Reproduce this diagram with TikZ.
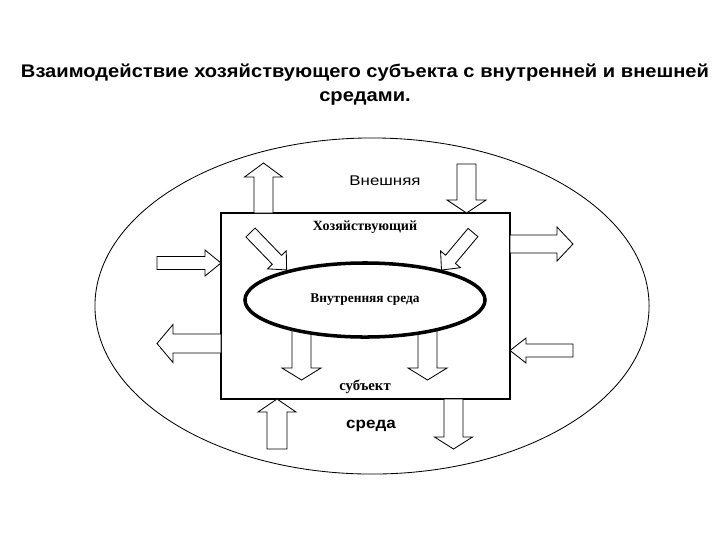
\documentclass[tikz,border=0pt]{standalone}
\usepackage{fontspec}
\setmainfont{Liberation Serif}
\setsansfont{Liberation Sans}
\usetikzlibrary{shapes.geometric}

% block arrow: tail point, angle, length, head length, shaft half width, head half width
\newcommand{\blockarr}[6]{%
  \draw[barrow, shift={#1}, rotate=#2]
    (0,-#5) -- ({#3-#4},-#5) -- ({#3-#4},-#6) -- (#3,0) -- ({#3-#4},#6) -- ({#3-#4},#5) -- (0,#5) -- cycle;}

\begin{document}
\begin{tikzpicture}[x=0.025cm, y=-0.025cm,
  barrow/.style={draw, fill=white, line width=0.6pt, line join=miter},
  lbl/.style={font=\fontsize{10}{11}\selectfont\bfseries, inner sep=0pt}]
  \useasboundingbox (0,0) rectangle (720,540);
  \node[font=\fontsize{13}{17}\selectfont\bfseries\sffamily, align=center, xscale=1.1] (title) at (365,85)
    {Взаимодействие хозяйствующего субъекта с внутренней и внешней\\средами.};
  \node[draw, ellipse, line width=0.6pt, minimum width=13.85cm, minimum height=8.4cm] (outer) at (372,306) {};
  \node[draw, line width=1pt, minimum width=7.225cm, minimum height=4.65cm] (firm) at (365.5,306) {};
  % arrows across the firm border
  \blockarr{(263.5,213)}{90}{50}{14}{9.5}{19}
  \blockarr{(466.5,164)}{-90}{49}{13}{9.5}{19.5}
  \blockarr{(510,244)}{0}{63}{16}{9}{17}
  \blockarr{(157,263)}{0}{64}{16}{6.5}{13}
  \blockarr{(221,343.5)}{180}{64}{16}{9.5}{19}
  \blockarr{(573,350.5)}{180}{63}{16}{6.5}{12.5}
  \blockarr{(277,449)}{90}{50}{13}{10}{19}
  \blockarr{(453.5,399)}{-90}{50}{12}{9.5}{19}
  % arrows to and from the inner environment
  \blockarr{(301.5,330)}{-90}{50}{12}{9.5}{19.5}
  \blockarr{(427.5,330)}{-90}{50}{12}{9.5}{19.5}
  \blockarr{(250.5,232.5)}{-46}{52}{14}{6.4}{13}
  \blockarr{(473,232.5)}{-130}{49}{14}{6.4}{13}
  \node[draw, ellipse, line width=2.5pt, fill=white, minimum width=6cm, minimum height=1.85cm] (inner) at (365,300) {};
  \node[lbl, font=\fontsize{9.5}{11}\selectfont\bfseries] (innerlbl) at (inner.center) {Внутренняя среда};
  \node[lbl] (firmtop) at (365,227) {Хозяйствующий};
  \node[lbl, font=\fontsize{10.5}{11}\selectfont\bfseries] (firmbot) at (365,387) {субъект};
  \node[font=\fontsize{10}{12}\selectfont\sffamily, xscale=1.2] (extop) at (385,181) {Внешняя};
  \node[font=\fontsize{11}{12}\selectfont\sffamily\bfseries, xscale=1.1] (exbot) at (371,426) {среда};
\end{tikzpicture}
\end{document}
